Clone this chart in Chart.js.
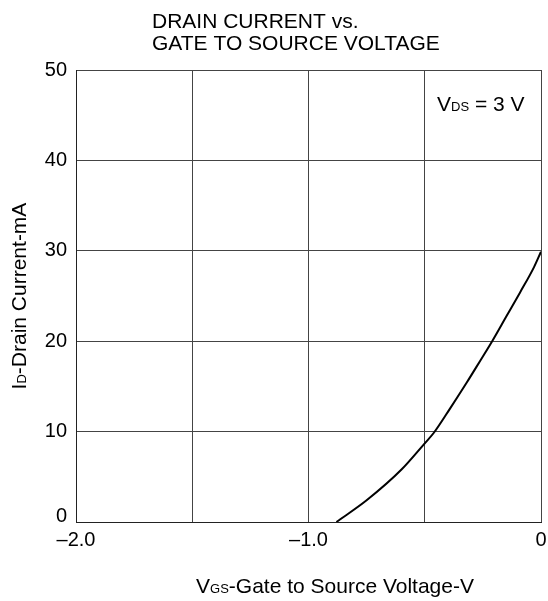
<!DOCTYPE html>
<html>
<head>
<meta charset="utf-8">
<script src="https://cdn.jsdelivr.net/npm/chart.js@4/dist/chart.umd.min.js"></script>
<style>
  body { margin: 0; background: #fff; }
  canvas { display: block; }
</style>
</head>
<body>
<canvas id="chart" width="548" height="601"></canvas>
<script>
// Datos
const vgs = [-0.88, -0.75, -0.6, -0.5, -0.46, -0.39, -0.32, -0.26, -0.21, -0.15, -0.09, -0.03, 0];
const idCurrent = [0, 2.4, 5.8, 8.7, 9.9, 12.6, 15.4, 17.9, 20.0, 22.7, 25.4, 28.2, 29.9];

// Etiquetas de los ejes
const xTickValues = [-2, -1, 0];
const xTickText = ['\u20132.0', '\u20131.0', '0'];
const titleLines = ['DRAIN CURRENT vs.', 'GATE TO SOURCE VOLTAGE'];

const FONT = '"Liberation Sans", Arial, sans-serif';

// dibuja texto con partes en subindice: [texto, tamaño]
function drawParts(ctx, parts, x, y, align) {
    let total = 0;
    parts.forEach(p => {
        ctx.font = p[1] + 'px ' + FONT;
        total += ctx.measureText(p[0]).width;
    });
    let cx = align === 'center' ? x - total / 2 : x;
    parts.forEach(p => {
        ctx.font = p[1] + 'px ' + FONT;
        ctx.fillText(p[0], cx, y);
        cx += ctx.measureText(p[0]).width;
    });
}

const textPlugin = {
    id: 'textos',
    afterDraw(chart) {
        const ctx = chart.ctx;
        const yScale = chart.scales.y;
        ctx.save();
        ctx.fillStyle = '#000';
        ctx.textAlign = 'left';
        ctx.textBaseline = 'alphabetic';
        // titulo
        ctx.font = '21px ' + FONT;
        ctx.fillText(titleLines[0], 152, 28);
        ctx.fillText(titleLines[1], 152, 50);
        // etiqueta 0 del eje y, alineada con el eje
        ctx.font = '20px ' + FONT;
        ctx.textAlign = 'right';
        ctx.fillText('0', yScale.right - 9, yScale.getPixelForValue(0));
        ctx.textAlign = 'left';
        // anotacion
        drawParts(ctx, [['V', 21], ['DS', 13], [' = 3 V', 21]], 437, 111, 'left');
        // titulo eje x
        drawParts(ctx, [['V', 21], ['GS', 13], ['-Gate to Source Voltage-V', 21]], 335, 593, 'center');
        // titulo eje y
        ctx.translate(26, 296);
        ctx.rotate(-Math.PI / 2);
        drawParts(ctx, [['I', 21], ['D', 13], ['-Drain Current-mA', 21]], 0, 0, 'center');
        ctx.restore();
    }
};

const config = {
    type: 'line',
    data: {
        datasets: [{
            data: vgs.map((v, i) => ({ x: v, y: idCurrent[i] })),
            borderColor: '#000',
            borderWidth: 2,
            pointRadius: 0,
            cubicInterpolationMode: 'monotone',
            fill: false
        }]
    },
    options: {
        responsive: false,
        animation: false,
        layout: { padding: { left: 0, right: 7, top: 70, bottom: 0 } },
        plugins: {
            legend: { display: false },
            tooltip: { enabled: false }
        },
        scales: {
            x: {
                type: 'linear',
                min: -2,
                max: 0,
                afterFit(scale) {
                    scale.height = 79;
                    scale.paddingLeft = 0;
                    scale.paddingRight = 0;
                },
                ticks: {
                    stepSize: 0.5,
                    padding: 6,
                    maxRotation: 0,
                    autoSkip: false,
                    color: '#000',
                    font: { family: FONT, size: 20 },
                    callback(value) {
                        const i = xTickValues.findIndex(t => Math.abs(t - value) < 1e-9);
                        return i >= 0 ? xTickText[i] : '';
                    }
                },
                grid: { color: '#444', drawTicks: false },
                border: { color: '#222', width: 1 }
            },
            y: {
                min: 0,
                max: 50,
                afterFit(scale) {
                    scale.width = 76;
                    scale.paddingTop = 0;
                    scale.paddingBottom = 0;
                },
                ticks: {
                    stepSize: 10,
                    padding: 9,
                    color: '#000',
                    font: { family: FONT, size: 20 },
                    callback(value) { return value === 0 ? '' : value; }
                },
                grid: { color: '#444', drawTicks: false },
                border: { color: '#222', width: 1 }
            }
        }
    },
    plugins: [textPlugin]
};

const chart = new Chart(document.getElementById('chart'), config);
</script>
</body>
</html>
